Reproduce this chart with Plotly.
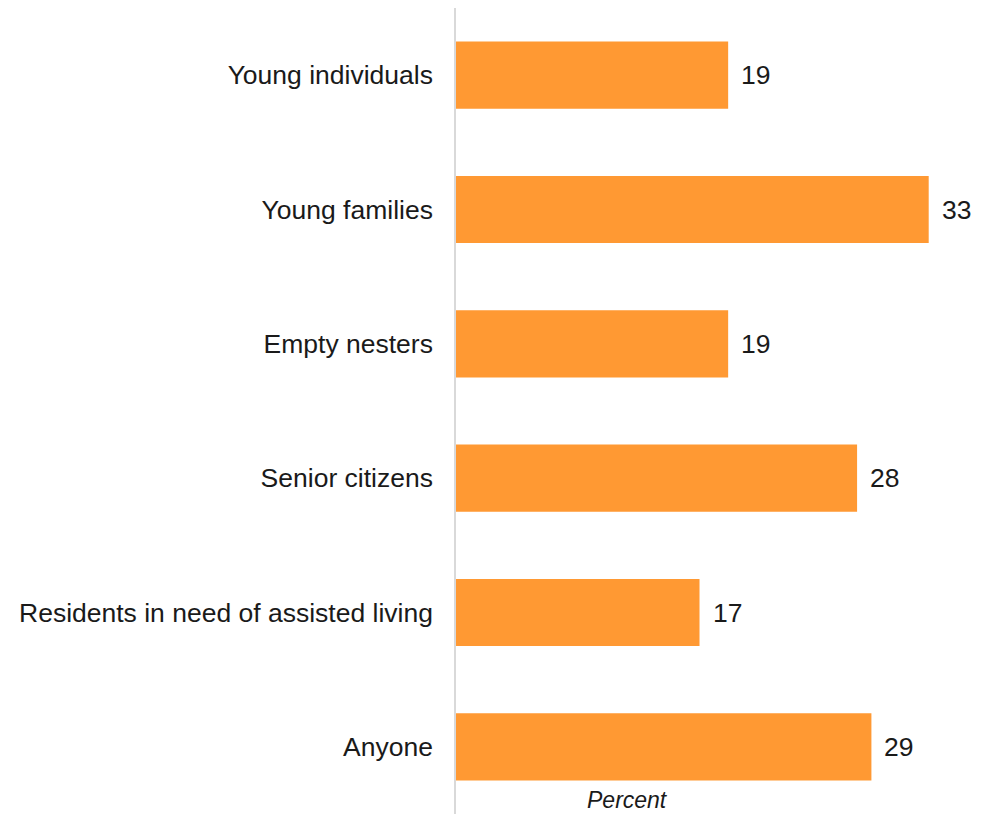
import plotly.graph_objects as go

categories = ["Young individuals", "Young families", "Empty nesters", "Senior citizens",
              "Residents in need of assisted living", "Anyone"]
values = [19, 33, 19, 28, 17, 29]
axis_title = "Percent"

BAR_COLOR = "#FF9933"
FONT = "Liberation Sans, Arial, sans-serif"
FS = 26.5
FS_VAL = 26.5

# page offset (default body margin of 8px) is compensated in margins
L, R, T, B = 448, 14, 0, 8
W, H = 992, 814
plot_w = W - L - R
plot_h = H - T - B

fig = go.Figure()
fig.add_trace(go.Bar(
    y=categories, x=values, orientation="h",
    marker=dict(color=BAR_COLOR, line=dict(width=0)),
    width=0.5,
    hoverinfo="x+y",
))

annotations = []
for c, v in zip(categories, values):
    annotations.append(dict(x=v, y=c, xref="x", yref="y", text=str(v),
                            showarrow=False, xanchor="left", yanchor="middle",
                            xshift=11, font=dict(family=FONT, size=FS_VAL, color="#1a1a1a")))

annotations.append(dict(text="<i>" + axis_title + "</i>", x=(627 - 8 - L) / plot_w,
                        y=(plot_h - (800 - 8 - T)) / plot_h,
                        xref="paper", yref="paper", showarrow=False,
                        xanchor="center", yanchor="middle",
                        font=dict(family=FONT, size=23, color="#1a1a1a")))

fig.update_layout(
    width=W, height=H,
    margin=dict(l=L, r=R, t=T, b=B),
    paper_bgcolor="white", plot_bgcolor="white",
    showlegend=False,
    font=dict(family=FONT, size=FS, color="#1a1a1a"),
    xaxis=dict(range=[0, 37], showgrid=False, zeroline=False, showticklabels=False,
               showline=False, fixedrange=True),
    yaxis=dict(autorange="reversed", showgrid=False, zeroline=False,
               showline=True, linecolor="#d9d9d9", linewidth=1.5,
               ticks="", ticklabelstandoff=16,
               tickfont=dict(family=FONT, size=FS, color="#1a1a1a")),
    annotations=annotations,
)

fig.write_html("out.html")
